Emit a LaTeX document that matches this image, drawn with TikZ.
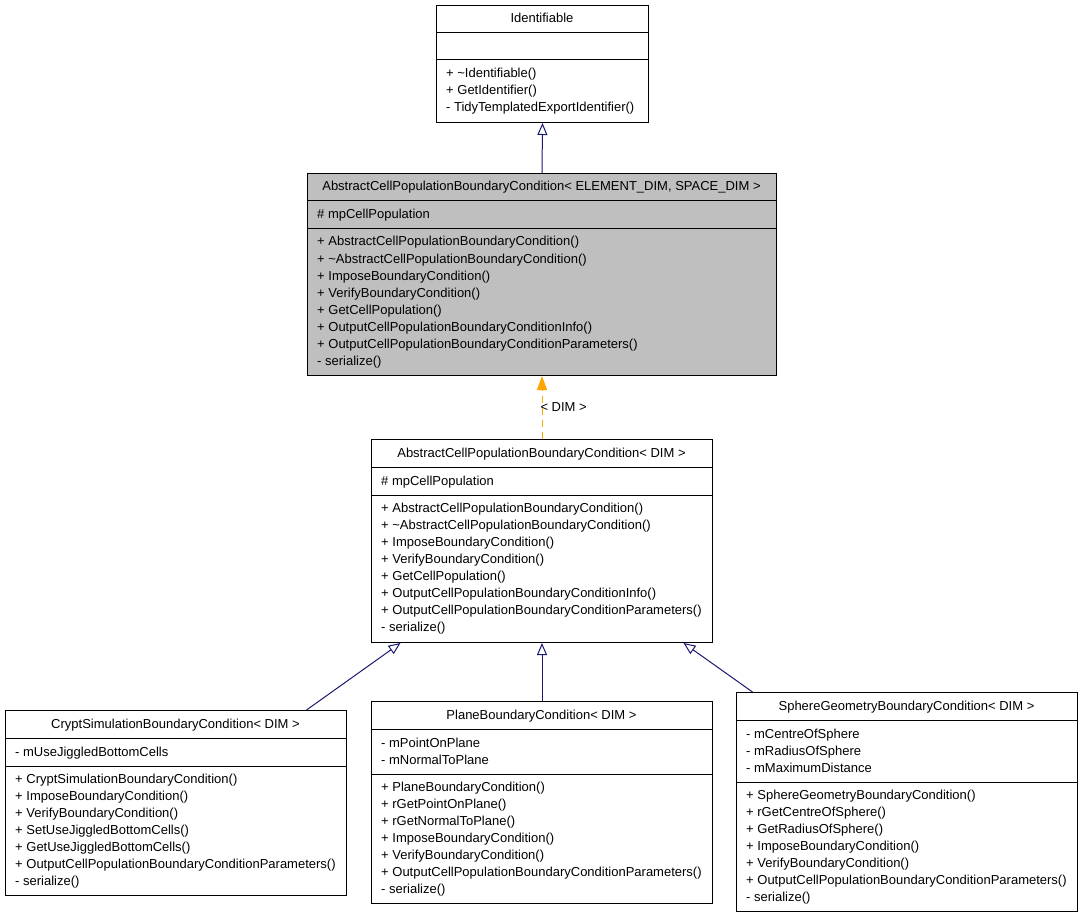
\documentclass[tikz,border=0pt]{standalone}
\usepackage{fontspec}
\setmainfont{Liberation Sans}
\usetikzlibrary{arrows.meta}
\definecolor{edgenavy}{RGB}{25,25,112}
\definecolor{deporange}{RGB}{255,165,0}
\definecolor{boxgray}{RGB}{191,191,191}
\newcommand\umllines[4]{%
  \foreach \t [count=\i from 0] in {#4} {\node[txt, anchor=base west] (#1\i) at (#2, #3+17*\i) {\t};}}
\begin{document}
\begin{tikzpicture}[x=1pt,y=-1pt,
  txt/.style={inner sep=0pt, font=\fontsize{13}{17}\selectfont},
  umlbox/.style={draw=black, line width=1pt, fill=white, inner sep=0pt, anchor=north west},
  sepline/.style={draw=black, line width=1pt},
  inh/.style={draw=edgenavy, line width=1pt, -{Triangle[open, length=12pt, width=10pt, fill=white]}},
  dep/.style={draw=deporange, line width=1pt, dash pattern=on 7pt off 5pt, -{Triangle[length=14pt, width=10pt]}}]
\fill[white] (0,0) rectangle (1083,917);
\useasboundingbox (0,0) rectangle (1083,917);

% Identifiable
\node[umlbox, minimum width=212pt, minimum height=117pt] (ident) at (436,5) {};
\draw[sepline] (ident.west |- 0,33) -- (ident.east |- 0,33);
\draw[sepline] (ident.west |- 0,60) -- (ident.east |- 0,60);
\node[txt, anchor=base] (identt) at (542,23) {Identifiable};
\umllines{identm}{446}{78}{+ \textasciitilde Identifiable(), + GetIdentifier(), - TidyTemplatedExportIdentifier()}

% AbstractCellPopulationBoundaryCondition< ELEMENT_DIM, SPACE_DIM >
\node[umlbox, fill=boxgray, minimum width=469pt, minimum height=202pt] (absE) at (307,173) {};
\draw[sepline] (absE.west |- 0,201) -- (absE.east |- 0,201);
\draw[sepline] (absE.west |- 0,229) -- (absE.east |- 0,229);
\node[txt, anchor=base] (absEt) at (541.5,191) {AbstractCellPopulationBoundaryCondition< ELEMENT\_DIM, SPACE\_DIM >};
\umllines{absEa}{317}{219}{\# mpCellPopulation}
\umllines{absEm}{317}{246}{+ AbstractCellPopulationBoundaryCondition(), + \textasciitilde AbstractCellPopulationBoundaryCondition(), + ImposeBoundaryCondition(), + VerifyBoundaryCondition(), + GetCellPopulation(), + OutputCellPopulationBoundaryConditionInfo(), + OutputCellPopulationBoundaryConditionParameters(), - serialize()}

% AbstractCellPopulationBoundaryCondition< DIM >
\node[umlbox, minimum width=341pt, minimum height=203pt] (absD) at (371,439) {};
\draw[sepline] (absD.west |- 0,467) -- (absD.east |- 0,467);
\draw[sepline] (absD.west |- 0,495) -- (absD.east |- 0,495);
\node[txt, anchor=base] (absDt) at (541.5,457) {AbstractCellPopulationBoundaryCondition< DIM >};
\umllines{absDa}{381}{485}{\# mpCellPopulation}
\umllines{absDm}{381}{512}{+ AbstractCellPopulationBoundaryCondition(), + \textasciitilde AbstractCellPopulationBoundaryCondition(), + ImposeBoundaryCondition(), + VerifyBoundaryCondition(), + GetCellPopulation(), + OutputCellPopulationBoundaryConditionInfo(), + OutputCellPopulationBoundaryConditionParameters(), - serialize()}

% CryptSimulationBoundaryCondition< DIM >
\node[umlbox, minimum width=341pt, minimum height=185pt] (crypt) at (5,710) {};
\draw[sepline] (crypt.west |- 0,738) -- (crypt.east |- 0,738);
\draw[sepline] (crypt.west |- 0,766) -- (crypt.east |- 0,766);
\node[txt, anchor=base] (cryptt) at (175.5,728) {CryptSimulationBoundaryCondition< DIM >};
\umllines{crypta}{15}{756}{- mUseJiggledBottomCells}
\umllines{cryptm}{15}{783}{+ CryptSimulationBoundaryCondition(), + ImposeBoundaryCondition(), + VerifyBoundaryCondition(), + SetUseJiggledBottomCells(), + GetUseJiggledBottomCells(), + OutputCellPopulationBoundaryConditionParameters(), - serialize()}

% PlaneBoundaryCondition< DIM >
\node[umlbox, minimum width=341pt, minimum height=202pt] (plane) at (371,701) {};
\draw[sepline] (plane.west |- 0,729) -- (plane.east |- 0,729);
\draw[sepline] (plane.west |- 0,774) -- (plane.east |- 0,774);
\node[txt, anchor=base] (planet) at (541.5,719) {PlaneBoundaryCondition< DIM >};
\umllines{planea}{381}{747}{- mPointOnPlane, - mNormalToPlane}
\umllines{planem}{381}{791}{+ PlaneBoundaryCondition(), + rGetPointOnPlane(), + rGetNormalToPlane(), + ImposeBoundaryCondition(), + VerifyBoundaryCondition(), + OutputCellPopulationBoundaryConditionParameters(), - serialize()}

% SphereGeometryBoundaryCondition< DIM >
\node[umlbox, minimum width=341pt, minimum height=219pt] (sphere) at (736,692) {};
\draw[sepline] (sphere.west |- 0,720) -- (sphere.east |- 0,720);
\draw[sepline] (sphere.west |- 0,782) -- (sphere.east |- 0,782);
\node[txt, anchor=base] (spheret) at (906.5,710) {SphereGeometryBoundaryCondition< DIM >};
\umllines{spherea}{746}{738}{- mCentreOfSphere, - mRadiusOfSphere, - mMaximumDistance}
\umllines{spherem}{746}{799}{+ SphereGeometryBoundaryCondition(), + rGetCentreOfSphere(), + GetRadiusOfSphere(), + ImposeBoundaryCondition(), + VerifyBoundaryCondition(), + OutputCellPopulationBoundaryConditionParameters(), - serialize()}

% connectors
\draw[inh] (absE.north) -- (ident.south);
\draw[dep] (absD.north) -- (absE.south) node[txt, pos=0.5, anchor=west, xshift=-2pt] (deplabel) {< DIM >};
\draw[inh] ([xshift=130.5pt]crypt.north) -- ([xshift=-141.5pt]absD.south);
\draw[inh] (plane.north) -- (absD.south);
\draw[inh] ([xshift=-154.5pt]sphere.north) -- ([xshift=141.5pt]absD.south);
\end{tikzpicture}
\end{document}
